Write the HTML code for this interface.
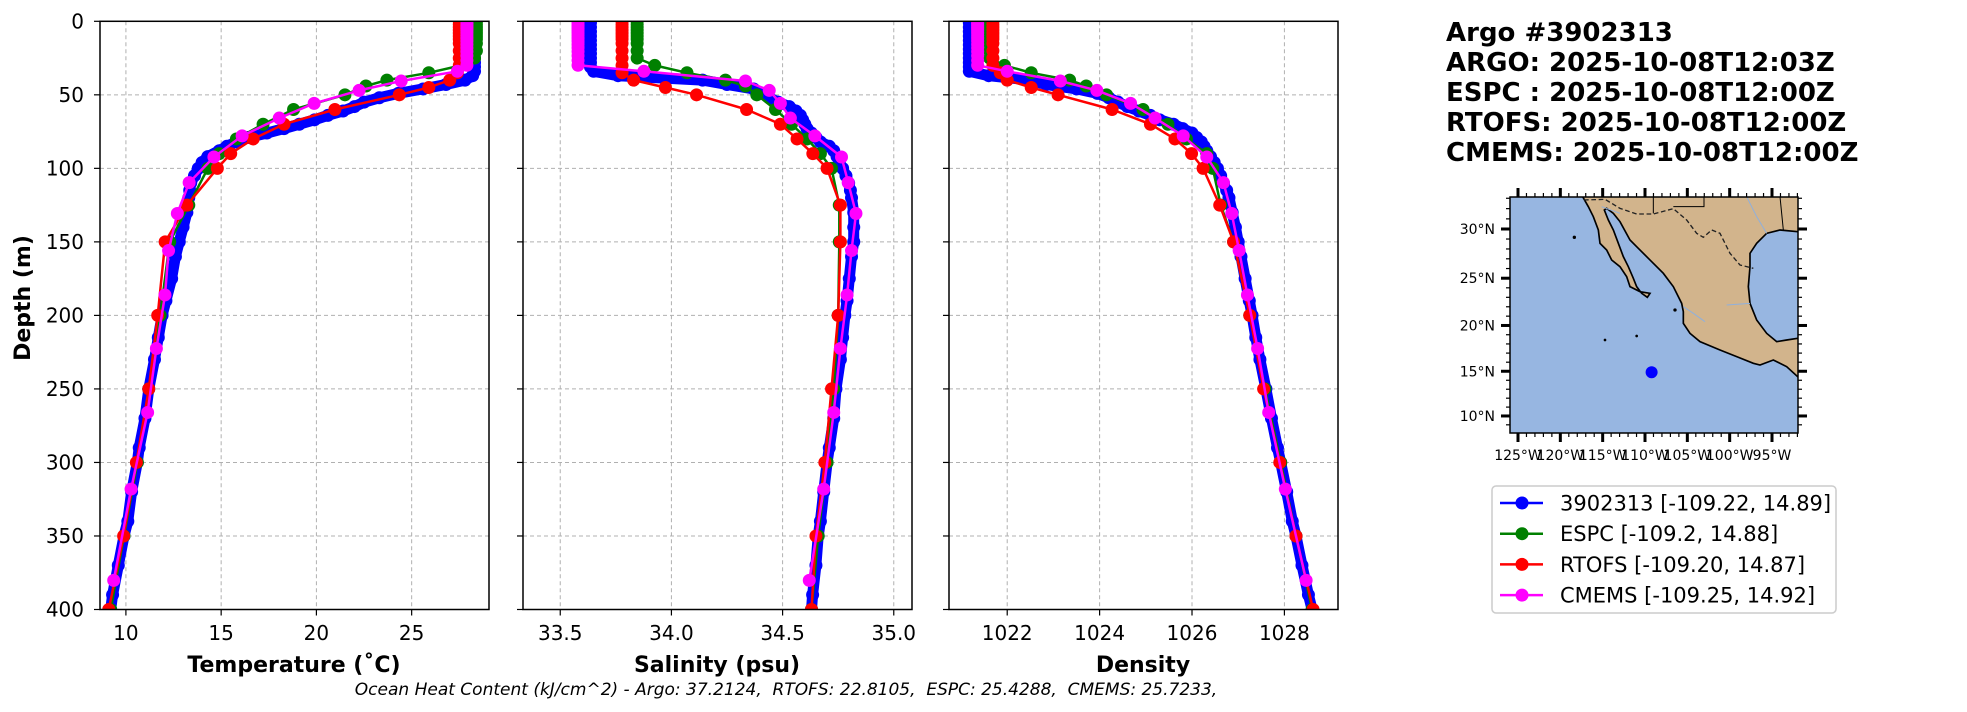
<!DOCTYPE html>
<html><head><meta charset="utf-8">
<style>
html,body{margin:0;padding:0;background:#fff;}
svg{display:block;font-family:"DejaVu Sans","Liberation Sans",sans-serif;}
</style></head>
<body>
<svg id="fig" xmlns="http://www.w3.org/2000/svg" width="1967" height="712" viewBox="0 0 1967 712">
<rect x="0" y="0" width="1967" height="712" fill="#fff"/>
<defs>
<clipPath id="c0"><rect x="100" y="21.3" width="389" height="588.2"/></clipPath>
<clipPath id="c1"><rect x="523" y="21.3" width="389" height="588.2"/></clipPath>
<clipPath id="c2"><rect x="949" y="21.3" width="389" height="588.2"/></clipPath>
<clipPath id="cm"><rect x="1510" y="197" width="288" height="236"/></clipPath>
</defs>
<g id="panels"></g>
<text x="0" y="0" transform="translate(30,298) rotate(-90)" text-anchor="middle" font-size="22" font-weight="bold">Depth (m)</text>
<text x="294" y="672" text-anchor="middle" font-size="22" font-weight="bold">Temperature (˚C)</text>
<text x="717" y="672" text-anchor="middle" font-size="22" font-weight="bold">Salinity (psu)</text>
<text x="1143" y="672" text-anchor="middle" font-size="22" font-weight="bold">Density</text>
<text x="786" y="695" text-anchor="middle" font-size="17" font-style="italic" style="white-space:pre" xml:space="preserve">Ocean Heat Content (kJ/cm^2) - Argo: 37.2124,  RTOFS: 22.8105,  ESPC: 25.4288,  CMEMS: 25.7233,</text>
<g font-size="26" font-weight="bold">
<text x="1446" y="41">Argo #3902313</text>
<text x="1446" y="71">ARGO: 2025-10-08T12:03Z</text>
<text x="1446" y="101">ESPC : 2025-10-08T12:00Z</text>
<text x="1446" y="131">RTOFS: 2025-10-08T12:00Z</text>
<text x="1446" y="161">CMEMS: 2025-10-08T12:00Z</text>
</g>
<g id="map">
<rect x="1510" y="197" width="288" height="236" fill="#97b6e1"/>
<g clip-path="url(#cm)">
<g transform="translate(1420,0) scale(0.33333)">
<path fill="#d2b48c" stroke="#000" stroke-width="5" d="M470,560 L488,590 L505,620 L520,650 L535,690 L540,730 L560,750 L575,780 L600,800 L620,830 L630,860 L660,875 L690,880 L682,892 L665,880 L650,860 L640,835 L625,800 L610,770 L595,730 L580,690 L565,660 L553,630 L560,625 L580,640 L600,665 L630,720 L650,740 L700,790 L730,820 L760,860 L785,910 L790,935 L790,970 L810,1000 L840,1025 L900,1050 L950,1070 L1000,1090 L1020,1095 L1060,1080 L1100,1100 L1133,1130 L1180,1150 L1180,1010 L1133,1015 L1100,1020 L1070,1025 L1040,1000 L1010,960 L990,910 L985,860 L990,800 L990,760 L1010,730 L1040,700 L1080,690 L1133,695 L1180,690 L1180,560 Z"/>
<path fill="none" stroke="#222" stroke-width="4" stroke-dasharray="14,8" d="M492,600 L555,598 L600,625 L650,642 L700,642 L760,626 L800,660 L830,700 L850,712 L875,690 L900,700 L930,760 L960,795 L1000,805"/>
<path fill="none" stroke="#000" stroke-width="3" d="M700,590 L700,640 M760,620 L852,620 L852,590 M1080,590 L1085,640 L1090,690"/>
<path fill="none" stroke="#8fb0dd" stroke-width="3" d="M545,620 L600,640 M980,590 L1010,650 L1040,700 M920,915 L990,910 M790,920 L820,940 L855,965"/>
<circle cx="463" cy="712" r="5" fill="#000"/><circle cx="555" cy="1020" r="4" fill="#000"/><circle cx="650" cy="1008" r="4" fill="#000"/><circle cx="765" cy="930" r="5" fill="#000"/>
</g>
</g>
<rect x="1510" y="197" width="288" height="236" fill="none" stroke="#000" stroke-width="1.5"/>
<g id="mapticks"></g>
</g>
<g id="legend">
<rect x="1492" y="486" width="344" height="127" rx="4" fill="#fff" stroke="#ccc" stroke-width="1.5"/>
</g>
</svg>
<script>
// ---------- data ----------
const argoDepth = [1,4,7,10,13,16,19,22,25,28,31,34,37,40,43,46,49,52,55,58,61,64,67,70,73,76,79,82,85,88,92,96,100,105,110,115,120,130,140,150,160,175,190,200,215,230,250,270,290,300,320,340,350,370,390,400];
const argoTemp = [28.3,28.3,28.3,28.3,28.3,28.3,28.3,28.3,28.3,28.3,28.3,28.3,28.2,27.8,26.8,25.6,24.3,23.3,22.5,22.0,21.4,20.6,19.9,19.1,18.3,17.4,16.4,15.8,15.3,14.9,14.3,14.0,13.8,13.6,13.4,13.35,13.3,13.2,13.0,12.8,12.6,12.4,12.1,11.9,11.7,11.5,11.2,11.0,10.7,10.6,10.3,10.1,9.9,9.6,9.3,9.2];
const argoSal = [33.636,33.636,33.636,33.636,33.636,33.636,33.636,33.636,33.636,33.636,33.636,33.65,33.76,34.14,34.25,34.37,34.41,34.44,34.48,34.53,34.56,34.58,34.59,34.60,34.61,34.63,34.65,34.67,34.71,34.73,34.745,34.755,34.77,34.785,34.797,34.805,34.81,34.82,34.82,34.82,34.81,34.80,34.79,34.78,34.77,34.76,34.74,34.73,34.71,34.70,34.685,34.67,34.66,34.65,34.635,34.63];
const argoDens = [1021.18,1021.18,1021.18,1021.18,1021.18,1021.18,1021.18,1021.18,1021.18,1021.18,1021.18,1021.18,1021.6,1022.48,1022.85,1023.5,1023.95,1024.2,1024.4,1024.6,1024.85,1025.1,1025.3,1025.6,1025.8,1026.0,1026.1,1026.2,1026.26,1026.32,1026.4,1026.48,1026.55,1026.62,1026.68,1026.75,1026.8,1026.87,1026.94,1027.0,1027.06,1027.15,1027.24,1027.3,1027.38,1027.47,1027.6,1027.72,1027.85,1027.92,1028.05,1028.17,1028.25,1028.38,1028.52,1028.6];

const espcDepth = [0,2,4,6,8,10,12,15,20,25,30,35,40,44,50,60,70,80,90,100,125,150,200,250,300,350,400];
const espcTemp = [28.4,28.4,28.4,28.4,28.4,28.4,28.4,28.4,28.4,28.3,27.6,25.9,23.7,22.6,21.5,18.8,17.2,15.8,14.9,14.3,13.3,12.3,11.8,11.2,10.6,9.9,9.2];
const espcSal = [33.846,33.846,33.846,33.846,33.846,33.846,33.846,33.846,33.846,33.846,33.925,34.07,34.243,34.333,34.384,34.468,34.54,34.61,34.67,34.72,34.755,34.755,34.75,34.73,34.70,34.66,34.63];
const espcDens = [1021.62,1021.62,1021.62,1021.62,1021.62,1021.62,1021.62,1021.62,1021.62,1021.62,1021.94,1022.52,1023.35,1023.71,1024.15,1024.94,1025.48,1025.88,1026.32,1026.45,1026.62,1026.9,1027.25,1027.58,1027.92,1028.25,1028.6];

const rtofsDepth = [0,2,4,6,8,10,12,15,20,25,30,35,40,45,50,60,70,80,90,100,125,150,200,250,300,350,400];
const rtofsTemp = [27.5,27.5,27.5,27.5,27.5,27.5,27.5,27.5,27.5,27.5,27.5,27.4,27.0,25.9,24.35,20.97,18.3,16.68,15.5,14.8,13.2,12.06,11.67,11.2,10.55,9.88,9.1];
const rtofsSal = [33.778,33.778,33.778,33.778,33.778,33.778,33.778,33.778,33.778,33.778,33.778,33.778,33.83,33.973,34.113,34.338,34.49,34.565,34.636,34.70,34.76,34.76,34.75,34.72,34.69,34.65,34.63];
const rtofsDens = [1021.69,1021.69,1021.69,1021.69,1021.69,1021.69,1021.69,1021.69,1021.69,1021.69,1021.69,1021.85,1022.0,1022.52,1023.1,1024.27,1025.1,1025.63,1025.99,1026.24,1026.6,1026.9,1027.25,1027.55,1027.9,1028.25,1028.62];

const cmemsDepth = [0.5,1.5,2.6,3.8,5,6.4,7.9,9.6,11.4,13.5,15.8,18.1,20.6,23.4,26.6,29.9,34,40.6,47,55.8,65.8,77.9,92.3,109.7,130.7,155.9,186.1,222.5,266,318.1,380.2];
const cmemsTemp = [27.9,27.9,27.9,27.9,27.9,27.9,27.9,27.9,27.9,27.9,27.9,27.9,27.9,27.9,27.9,27.9,27.4,24.45,22.24,19.88,18.05,16.1,14.62,13.32,12.7,12.24,12.05,11.6,11.14,10.27,9.36];
const cmemsSal = [33.58,33.58,33.58,33.58,33.58,33.58,33.58,33.58,33.58,33.58,33.58,33.58,33.58,33.58,33.58,33.58,33.876,34.333,34.44,34.49,34.535,34.645,34.765,34.795,34.83,34.81,34.79,34.76,34.73,34.685,34.62];
const cmemsDens = [1021.36,1021.36,1021.36,1021.36,1021.36,1021.36,1021.36,1021.36,1021.36,1021.36,1021.36,1021.36,1021.36,1021.36,1021.36,1021.36,1022.0,1023.15,1023.94,1024.67,1025.2,1025.81,1026.32,1026.68,1026.86,1027.02,1027.2,1027.42,1027.66,1028.02,1028.47];

const depthTicks = [0,50,100,150,200,250,300,350,400];
const tempTicks = [10,15,20,25];
const salTicks = [33.5,34.0,34.5,35.0];
const densTicks = [1022,1024,1026,1028];
const latTicks = [10,15,20,25,30];
const lonTicks = [-125,-120,-115,-110,-105,-100,-95];
const lonLabels = ["125°W","120°W","115°W","110°W","105°W","100°W","95°W"];
const legendLabels = ["3902313 [-109.22, 14.89]","ESPC [-109.2, 14.88]","RTOFS [-109.20, 14.87]","CMEMS [-109.25, 14.92]"];
const floatLon = -109.22, floatLat = 14.89;

// ---------- helpers ----------
const NS = "http://www.w3.org/2000/svg";
function mk(tag, attrs, parent){const e=document.createElementNS(NS,tag);for(const k in attrs)e.setAttribute(k,attrs[k]);parent.appendChild(e);return e;}
const Y0=21.3, Y1=609.5;
function yScale(d){return Y0+(d/400)*(Y1-Y0);}
const panels=[
 {name:"temperature",x0:100,x1:489,v0:8.64,v1:29.06,ticks:tempTicks,fmt:v=>String(v),clip:"c0",series:[argoTemp,espcTemp,rtofsTemp,cmemsTemp]},
 {name:"salinity",x0:523,x1:912,v0:33.3325,v1:35.082,ticks:salTicks,fmt:v=>v.toFixed(1),clip:"c1",series:[argoSal,espcSal,rtofsSal,cmemsSal]},
 {name:"density",x0:949,x1:1338,v0:1020.74,v1:1029.16,ticks:densTicks,fmt:v=>String(v),clip:"c2",series:[argoDens,espcDens,rtofsDens,cmemsDens]}
];
const depths=[argoDepth,espcDepth,rtofsDepth,cmemsDepth];
const colors=["#0000ff","#008000","#ff0000","#ff00ff"];
const widths=[11,2.5,2.5,2.5];
const sNames=["argo","espc","rtofs","cmems"];
const root=document.getElementById("panels");
panels.forEach((p,pi)=>{
 const xs=v=>p.x0+(v-p.v0)/(p.v1-p.v0)*(p.x1-p.x0);
 const g=mk("g",{},root);
 
 
 p.ticks.forEach(t=>{const l=mk("line",{x1:xs(t),x2:xs(t),y1:Y0,y2:Y1,stroke:"#b0b0b0","stroke-width":1,"stroke-dasharray":"4,3"},g);
  
  });
 depthTicks.forEach(d=>{if(d>0&&d<400){const l=mk("line",{x1:p.x0,x2:p.x1,y1:yScale(d),y2:yScale(d),stroke:"#b0b0b0","stroke-width":1,"stroke-dasharray":"4,3"},g);
  
  }});
 const sg=mk("g",{"clip-path":"url(#"+p.clip+")"},g);
 p.series.forEach((vals,si)=>{
  const dd=depths[si];
  const pts=vals.map((v,i)=>xs(v).toFixed(1)+","+yScale(dd[i]).toFixed(1)).join(" ");
  const pl=mk("polyline",{points:pts,fill:"none",stroke:colors[si],"stroke-width":widths[si],"stroke-linejoin":"round","stroke-linecap":"round"},sg);
  
  
  vals.forEach((v,i)=>{const c=mk("circle",{cx:xs(v),cy:yScale(dd[i]),r:6.5,fill:colors[si]},sg);
   
   });
 });
 const fr=mk("rect",{x:p.x0,y:Y0,width:p.x1-p.x0,height:Y1-Y0,fill:"none",stroke:"#000","stroke-width":1.5},g);
 
 
 p.ticks.forEach(t=>{mk("line",{x1:xs(t),x2:xs(t),y1:Y1,y2:Y1+6,stroke:"#000","stroke-width":1.2},g);
  const tx=mk("text",{x:xs(t),y:640,"text-anchor":"middle","font-size":20},g);tx.textContent=p.fmt(t);
  
  });
 depthTicks.forEach(d=>{mk("line",{x1:p.x0-6,x2:p.x0,y1:yScale(d),y2:yScale(d),stroke:"#000","stroke-width":1.2},g);
  if(pi===0){const tx=mk("text",{x:84,y:yScale(d)+7,"text-anchor":"end","font-size":20},g);tx.textContent=String(d);
   
   }});
});

// ---------- map ----------
const mt=document.getElementById("mapticks");
const lonX=lon=>1518+(lon+125)*8.467;
const merc=lat=>Math.log(Math.tan(Math.PI/4+lat*Math.PI/360));
const latY=lat=>503.7-500.1*merc(lat);
for(let lon=-126;lon<=-92;lon++){const x=lonX(lon);if(x<1510||x>1798)continue;
 const major=lon%5===0;const len=major?9:4;const w=major?3:1.2;
 mk("line",{x1:x,x2:x,y1:197,y2:197-len,stroke:"#000","stroke-width":w},mt);
 mk("line",{x1:x,x2:x,y1:433,y2:433+len,stroke:"#000","stroke-width":w},mt);}
for(let lat=8;lat<=33;lat++){const y=latY(lat);if(y<197||y>433)continue;
 const major=lat%5===0;const len=major?9:4;const w=major?3:1.2;
 mk("line",{x1:1510,x2:1510-len,y1:y,y2:y,stroke:"#000","stroke-width":w},mt);
 mk("line",{x1:1798,x2:1798+len,y1:y,y2:y,stroke:"#000","stroke-width":w},mt);}
latTicks.forEach(lat=>{const t=mk("text",{x:1495,y:latY(lat)+5,"text-anchor":"end","font-size":14},mt);t.textContent=lat+"°N";
 
 });
lonTicks.forEach((lon,i)=>{const t=mk("text",{x:lonX(lon),y:460,"text-anchor":"middle","font-size":14},mt);t.textContent=lonLabels[i];
 
 });
const dot=mk("circle",{cx:lonX(floatLon),cy:latY(floatLat),r:6,fill:"#0000ff"},mt);



// ---------- legend ----------
const lg=document.getElementById("legend");
legendLabels.forEach((lab,i)=>{const y=503+i*30.7;
 const e=mk("g",{},lg);
 
 
 mk("line",{x1:1500,x2:1543,y1:y,y2:y,stroke:colors[i],"stroke-width":2.5},e);
 mk("circle",{cx:1522,cy:y,r:6.5,fill:colors[i]},e);
 const t=mk("text",{x:1560,y:y+7.5,"font-size":21},e);t.textContent=lab;});
</script>
</body></html>
